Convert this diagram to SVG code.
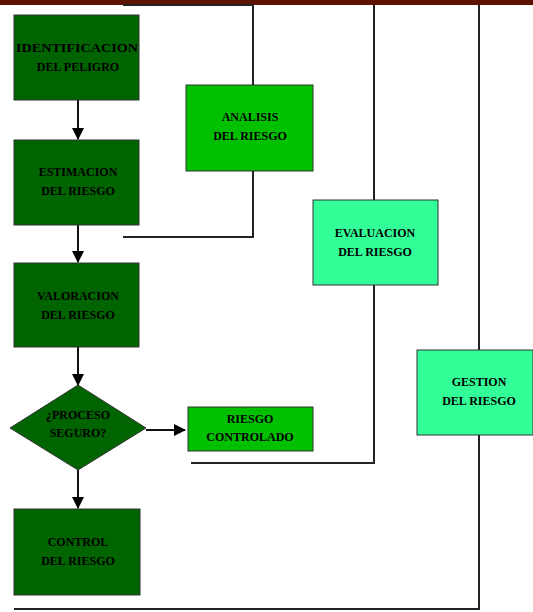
<svg xmlns="http://www.w3.org/2000/svg" width="533" height="612" viewBox="0 0 533 612">
<style>
.dk{fill:#006400;stroke:#333;stroke-width:1}
.lt{fill:#00c000;stroke:#333;stroke-width:1}
.mn{fill:#33ff99;stroke:#333;stroke-width:1}
text{font-family:"Liberation Serif",serif;font-weight:bold;font-size:12px;fill:#000;text-anchor:middle}
.ln{fill:none;stroke:#222;stroke-width:2}
.ar{fill:none;stroke:#111;stroke-width:2;marker-end:url(#ah)}
</style>
<defs>
<marker id="ah" markerWidth="12" markerHeight="12" refX="11" refY="6" orient="auto" markerUnits="userSpaceOnUse">
<path d="M0,0 L12,6 L0,12 Z" fill="#000"/>
</marker>
</defs>
<rect x="0" y="0" width="533" height="5" fill="#5e1200"/>
<g id="connectors">
<path class="ln" d="M123,5 H253 V85"/>
<path class="ln" d="M253,171 V237 H123"/>
<path class="ln" d="M374,5 V200"/>
<path class="ln" d="M374,285 V463 H191"/>
<path class="ln" d="M479,5 V350"/>
<path class="ln" d="M479,435 V609 H14"/>
<path class="ar" d="M78,100 V139"/>
<path class="ar" d="M78,225 V262"/>
<path class="ar" d="M78,347 V385"/>
<path class="ar" d="M146,430 H185"/>
<path class="ar" d="M78,470 V508"/>
</g>
<g id="identificacion">
<rect class="dk" x="14" y="15" width="125" height="85"/>
<text x="77" y="52" textLength="122" lengthAdjust="spacingAndGlyphs">IDENTIFICACION</text>
<text x="78" y="71">DEL PELIGRO</text>
</g>
<g id="estimacion">
<rect class="dk" x="14" y="140" width="125" height="85"/>
<text x="78" y="176">ESTIMACION</text>
<text x="78" y="195">DEL RIESGO</text>
</g>
<g id="valoracion">
<rect class="dk" x="14" y="263" width="125" height="84"/>
<text x="78" y="300">VALORACION</text>
<text x="78" y="319">DEL RIESGO</text>
</g>
<g id="proceso">
<polygon class="dk" points="78,385 146,428 78,470 10,428"/>
<text x="78" y="419">¿PROCESO</text>
<text x="78" y="437">SEGURO?</text>
</g>
<g id="controlado">
<rect class="lt" x="188" y="407" width="125" height="44"/>
<text x="250" y="423">RIESGO</text>
<text x="250" y="441">CONTROLADO</text>
</g>
<g id="control">
<rect class="dk" x="14" y="509" width="126" height="86"/>
<text x="78" y="546">CONTROL</text>
<text x="78" y="565">DEL RIESGO</text>
</g>
<g id="analisis">
<rect class="lt" x="186" y="85" width="127" height="86"/>
<text x="250" y="121">ANALISIS</text>
<text x="250" y="140">DEL RIESGO</text>
</g>
<g id="evaluacion">
<rect class="mn" x="313" y="200" width="125" height="85"/>
<text x="375" y="237">EVALUACION</text>
<text x="375" y="256">DEL RIESGO</text>
</g>
<g id="gestion">
<rect class="mn" x="417" y="350" width="116" height="85"/>
<text x="479" y="386">GESTION</text>
<text x="479" y="405">DEL RIESGO</text>
</g>
</svg>
